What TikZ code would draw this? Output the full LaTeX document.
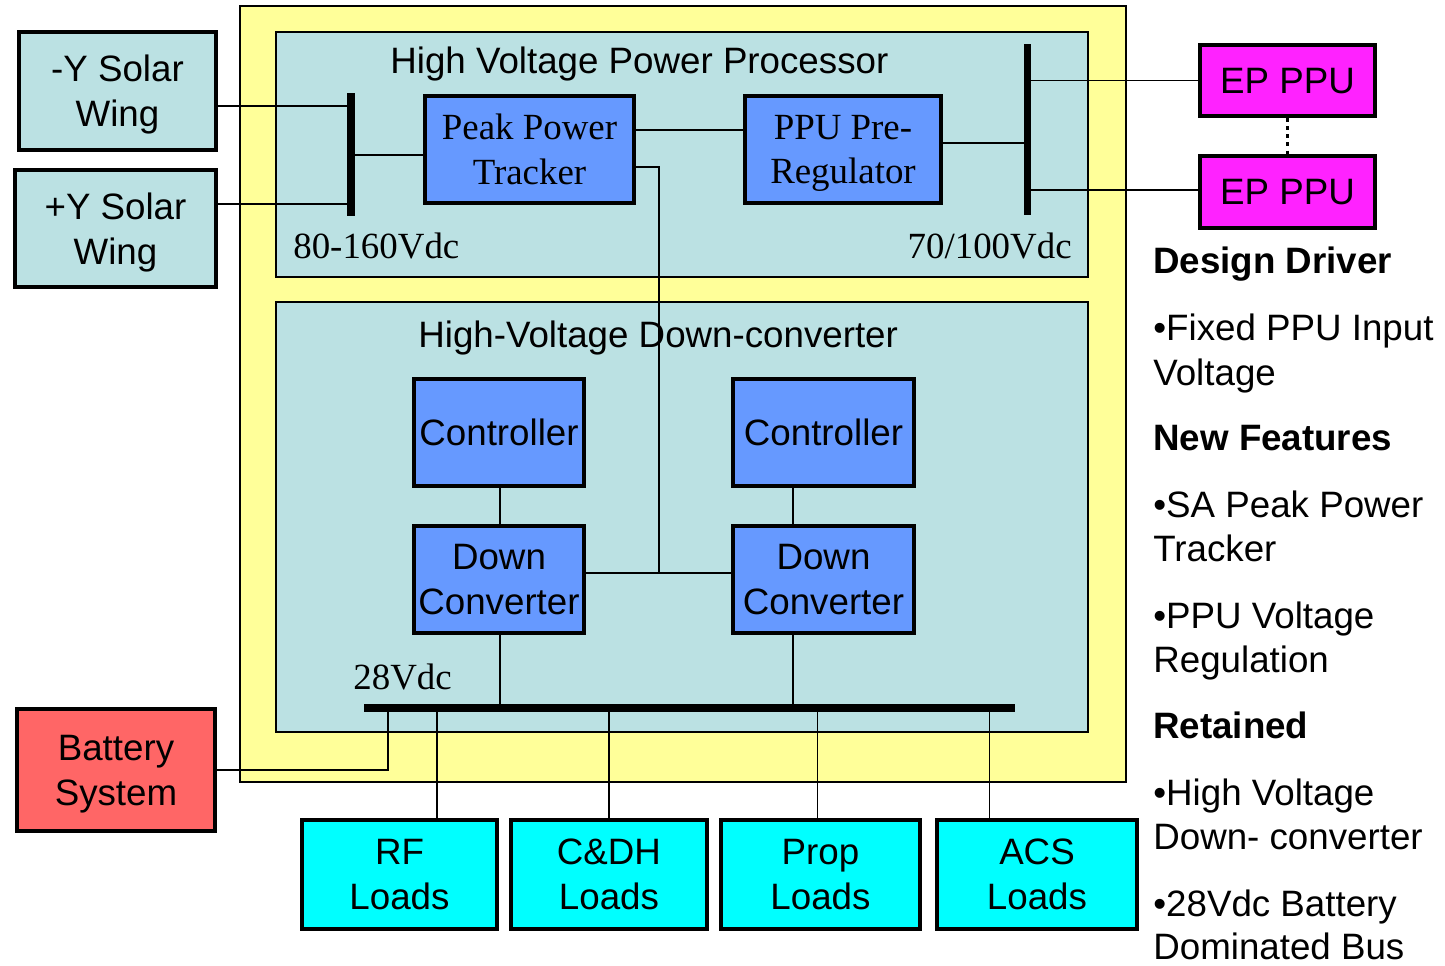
\documentclass[tikz,border=0pt]{standalone}
\usepackage{fontspec}
\setmainfont{Liberation Serif}
\setsansfont{Liberation Sans}
\usetikzlibrary{positioning,calc}

\definecolor{panelyellow}{HTML}{FFFF99}
\definecolor{panelblue}{HTML}{BBE1E3}
\definecolor{unitblue}{HTML}{6699FF}
\definecolor{eppink}{HTML}{FF22FF}
\definecolor{battred}{HTML}{FF6666}
\definecolor{loadcyan}{HTML}{00FFFF}

\newcommand{\sansfs}{\sffamily\fontsize{20.9}{25.5}\selectfont}
\newcommand{\seriffs}{\rmfamily\fontsize{21}{25.5}\selectfont}

\begin{document}
\begin{tikzpicture}[
  x=0.02cm, y=-0.02cm,
  unit/.style={rectangle, draw, line width=2.2pt, align=center, inner sep=0pt, text depth=0pt, font=\sansfs},
  wing/.style={unit, fill=panelblue},
  proc/.style={unit, fill=unitblue, minimum height=2.14cm},
  tproc/.style={proc, font=\seriffs},
  ppu/.style={unit, fill=eppink, minimum width=3.5cm, minimum height=1.43cm},
  load/.style={unit, fill=loadcyan, minimum height=2.18cm},
  panel/.style={draw, line width=0.8pt},
  title/.style={anchor=base west, inner sep=0pt, font=\sansfs},
  vlabel/.style={inner sep=0pt, font=\seriffs},
  note/.style={anchor=base west, inner sep=0pt, font=\sansfs},
  wire/.style={draw, line width=1pt},
  bus/.style={draw, line width=4.5pt}
]
  \useasboundingbox (0,0) rectangle (1445,965);

  % panels
  \draw[panel, fill=panelyellow] (240,6) rectangle (1126,782);
  \draw[panel, fill=panelblue] (276,32) rectangle (1088,277);
  \draw[panel, fill=panelblue] (276,302) rectangle (1088,732);

  \node[title] (hvpptitle) at (390,73) {High Voltage Power Processor};
  \node[title] (hvdctitle) at (418,347) {High-Voltage Down-converter};
  \node[vlabel, anchor=base west] (vin) at (293,258) {80-160Vdc};
  \node[vlabel, anchor=base east] (vout) at (1072,258) {70/100Vdc};
  \node[vlabel, anchor=base west] (vbus) at (353,689) {28Vdc};

  % units
  \node[wing, minimum width=3.94cm, minimum height=2.36cm] (wingm) at (117.5,91) {-Y Solar\\Wing};
  \node[wing, minimum width=4.02cm, minimum height=2.34cm] (wingp) at (115.5,228.5) {+Y Solar\\Wing};
  \node[tproc, minimum width=4.18cm] (ppt) at (529.5,149.5) {Peak Power\\Tracker};
  \node[tproc, minimum width=3.92cm] (ppr) at (843,149.5) {PPU Pre-\\Regulator};
  \node[ppu] (ep1) at (1287.5,80.5) {EP PPU};
  \node[ppu] (ep2) at (1287.5,192) {EP PPU};
  \node[proc, minimum width=3.4cm] (ctl1) at (499,432.5) {Controller};
  \node[proc, minimum width=3.62cm] (ctl2) at (823.5,432.5) {Controller};
  \node[proc, minimum width=3.4cm] (dc1) at (499,579.5) {Down\\Converter};
  \node[proc, minimum width=3.62cm] (dc2) at (823.5,579.5) {Down\\Converter};
  \node[unit, fill=battred, minimum width=3.96cm, minimum height=2.44cm] (batt) at (116,770) {Battery\\System};
  \node[load, minimum width=3.9cm] (rf) at (399.5,874.5) {RF\\Loads};
  \node[load, minimum width=3.92cm] (cdh) at (609,874.5) {C\&DH\\Loads};
  \node[load, minimum width=3.98cm] (prop) at (820.5,874.5) {Prop\\Loads};
  \node[load, minimum width=4cm] (acs) at (1037,874.5) {ACS\\Loads};

  % bus points
  \coordinate (blt) at (351,93);
  \coordinate (blb) at (351,216);
  \coordinate (bl1) at (351,106);
  \coordinate (bl2) at (351,204);
  \coordinate (bl3) at (351,155);
  \coordinate (brt) at (1027.5,44);
  \coordinate (brb) at (1027.5,215);
  \coordinate (br1) at (1027.5,143);
  \coordinate (br2) at (1027.5,80.5);
  \coordinate (br3) at (1027.5,190);
  \coordinate (bbl) at (364,708);
  \coordinate (bbr) at (1015,708);
  \coordinate (bbat) at (388,708);
  \coordinate (jn) at (659,573);
  \coordinate (lane1) at (500,708);
  \coordinate (lane2) at (793,708);

  % wires
  \draw[wire] (bl1) -- (bl1 -| wingm.east);
  \draw[wire] (bl2) -- (bl2 -| wingp.east);
  \draw[wire] (bl3) -- (bl3 -| ppt.west);
  \draw[wire] ($(ppt.east)+(0,-19.5)$) -- ($(ppr.west)+(0,-19.5)$);
  \draw[wire] ($(ppt.east)+(0,17.5)$) -| (jn);
  \draw[wire] (dc1.east |- jn) -- (dc2.west |- jn);
  \draw[wire] (br1) -- (br1 -| ppr.east);
  \draw[wire] (br2) -- (ep1.west);
  \draw[wire] (br3) -- (br3 -| ep2.west);
  \draw[line width=1.7pt, dash pattern=on 2.3pt off 2.3pt] (ep1.south) -- (ep2.north);
  \draw[wire] (lane1 |- ctl1.south) -- (lane1 |- dc1.north);
  \draw[wire] (lane2 |- ctl2.south) -- (lane2 |- dc2.north);
  \draw[wire] (lane1 |- dc1.south) -- (lane1);
  \draw[wire] (lane2 |- dc2.south) -- (lane2);
  \draw[wire] (batt.east) -| (bbat);
  \foreach \xx/\ld in {437/rf, 609/cdh, 817.5/prop, 989.5/acs}{
    \coordinate (tap\ld) at (\xx,708);
    \draw[wire] (tap\ld) -- (tap\ld |- \ld.north);
  }

  % buses
  \draw[bus] (blt) -- (blb);
  \draw[bus] (brt) -- (brb);
  \draw[bus] (bbl) -- (bbr);

  % notes
  \foreach \yy/\txt in {273/\textbf{Design Driver}, 340/•Fixed PPU Input, 385/Voltage,
      450/\textbf{New Features}, 517/•SA Peak Power, 561/Tracker, 628/•PPU Voltage,
      672/Regulation, 738/\textbf{Retained}, 805/•High Voltage, 849/Down- converter,
      916/•28Vdc Battery, 959/Dominated Bus}
    \node[note] (note\yy) at (1153,\yy) {\txt};
\end{tikzpicture}
\end{document}
